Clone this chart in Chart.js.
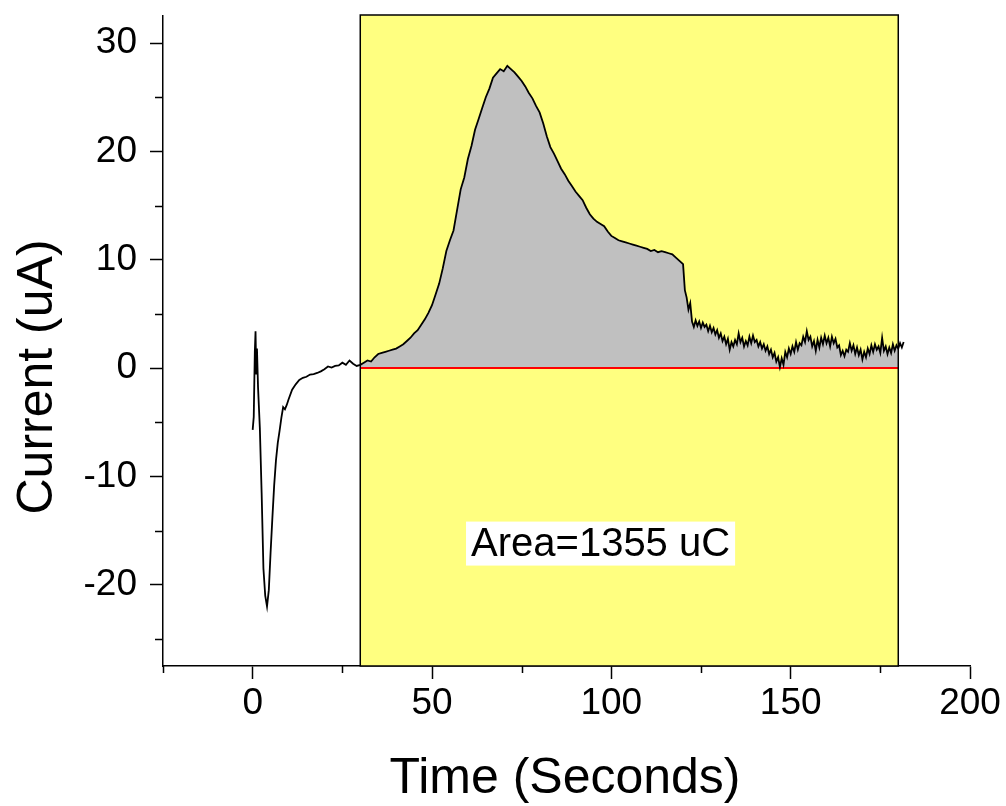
<!DOCTYPE html>
<html>
<head>
<meta charset="utf-8">
<title>Current vs Time</title>
<script src="https://cdn.jsdelivr.net/npm/chart.js@4.4.0/dist/chart.umd.min.js"></script>
<style>
  html, body { margin: 0; padding: 0; background: #fff; }
  #wrap { width: 1006px; height: 806px; position: relative; }
</style>
</head>
<body>
<div id="wrap"><canvas id="chart"></canvas></div>
<script>
const timeSec = [
  0, 0.3, 0.6, 0.8, 1, 1.2, 1.5, 2, 2.5, 3, 3.5, 4, 4.5, 5, 5.5, 6, 6.5, 7, 7.5, 8, 8.5, 9, 9.5, 10,
  11, 12, 13, 14, 15, 16, 17, 18, 19, 20, 21, 22, 23, 24, 25, 26, 27, 28, 29, 30,
  31, 32, 33, 34, 35, 36, 37, 38, 39, 40,
  41, 42, 43, 44, 45, 46, 47, 48, 49, 50,
  51, 52, 53, 54, 55, 56, 57, 58, 59, 60,
  61, 62, 63, 64, 65, 66, 67, 68, 69, 70,
  71, 72, 73, 74, 75, 76, 77, 78, 79, 80,
  81, 82, 83, 84, 85, 86, 87, 88, 89, 90,
  91, 92, 93, 94, 95, 96, 97, 98, 99, 100,
  101, 102, 103, 104, 105, 106, 107, 108, 109, 110,
  111, 112, 113, 114, 115, 116, 117, 118, 119, 120,
  120.5, 121, 121.5, 122, 122.5, 123, 123.5, 124, 124.5, 125,
  125.5, 126, 126.5, 127, 127.5, 128, 128.5, 129, 129.5, 130,
  130.5, 131, 131.5, 132, 132.5, 133, 133.5, 134, 134.5, 135,
  135.5, 136, 136.5, 137, 137.5, 138, 138.5, 139, 139.5, 140,
  140.5, 141, 141.5, 142, 142.5, 143, 143.5, 144, 144.5, 145,
  145.5, 146, 146.5, 147, 147.5, 148, 148.5, 149, 149.5, 150,
  150.5, 151, 151.5, 152, 152.5, 153, 153.5, 154, 154.5, 155,
  155.5, 156, 156.5, 157, 157.5, 158, 158.5, 159, 159.5, 160,
  160.5, 161, 161.5, 162, 162.5, 163, 163.5, 164, 164.5, 165,
  165.5, 166, 166.5, 167, 167.5, 168, 168.5, 169, 169.5, 170,
  170.5, 171, 171.5, 172, 172.5, 173, 173.5, 174, 174.5, 175,
  175.5, 176, 176.5, 177, 177.5, 178, 178.5, 179, 179.5, 180,
  180.5, 181, 181.5
];

const currentUA = [
  -5.7, -4.5, 1.5, 3.4, -0.5, 1.8, -1.8, -5.5, -11.5, -18.5, -21.0, -22.0, -20.5, -17.0, -13.8, -10.8, -8.5, -6.9, -5.8, -4.6, -3.6, -3.8, -3.4, -2.9,
  -2.0, -1.5, -1.1, -0.9, -0.8, -0.6, -0.55, -0.45, -0.3, -0.1, 0.15, 0.05, 0.2, 0.25, 0.5, 0.3, 0.7, 0.4, 0.2, 0.3,
  0.5, 0.7, 0.6, 1.0, 1.3, 1.4, 1.5, 1.6, 1.7, 1.8,
  2.0, 2.2, 2.5, 2.8, 3.2, 3.5, 4.0, 4.5, 5.1, 5.8,
  6.8, 7.8, 9.2, 10.8, 11.8, 12.7, 14.6, 16.5, 17.6, 19.3,
  20.5, 22.0, 23.0, 24.0, 25.0, 25.8, 26.8, 27.2, 27.6, 27.4,
  27.9, 27.6, 27.3, 26.9, 26.5, 26.0, 25.4, 24.9, 24.2, 23.6,
  22.6, 21.4, 20.4, 19.8, 19.1, 18.4, 17.9, 17.3, 16.8, 16.3,
  15.9, 15.5, 14.8, 14.2, 13.8, 13.5, 13.3, 13.1, 12.6, 12.2,
  12.0, 11.8, 11.7, 11.6, 11.5, 11.4, 11.3, 11.2, 11.1, 11.0,
  10.8, 10.9, 10.7, 10.8, 10.7, 10.6, 10.5, 10.2, 9.9, 9.6,
  7.2, 6.5, 5.4, 6.0, 4.3, 3.8, 4.4, 3.9, 4.3, 3.7,
  4.2, 3.8, 4.0, 3.4, 3.9, 3.3, 3.7, 3.1, 3.5, 2.8,
  3.2, 2.5, 2.9, 2.2, 2.7, 1.7, 2.4, 2.0, 2.6, 2.2,
  3.2, 2.4, 2.8, 2.0, 2.5, 2.1, 2.9, 2.3, 3.0, 2.4,
  2.6, 2.0, 2.4, 1.8, 2.2, 1.6, 2.0, 1.3, 1.7, 1.0,
  1.4, 0.6, 1.0, 0.1, 0.9, 0.3, 1.5, 1.0, 1.8, 1.3,
  2.0, 1.5, 2.4, 1.7, 2.3, 2.1, 2.9, 2.4, 3.4, 2.6,
  2.9, 2.0, 2.5, 1.6, 2.6, 1.9, 2.8, 2.2, 3.0, 2.3,
  2.8, 2.0, 2.9, 2.3, 2.7, 1.9, 2.1, 1.2, 1.6, 1.1,
  1.7, 1.5, 2.3, 1.6, 2.1, 1.3, 1.9, 1.2, 1.7, 0.8,
  1.5, 1.0, 1.8, 1.3, 2.1, 1.5, 2.2, 1.7, 2.0, 1.4,
  2.8, 1.6, 2.0, 1.3, 1.9, 1.4, 2.2, 1.6, 2.1, 1.8,
  2.3, 1.9, 2.4
];

// Integration window and result
const areaStart = 30;
const areaEnd = 180;
const baseline = 0;
const areaLabel = 'Area=1355 uC';

// Axis ticks and titles
const xTicks = [0, 50, 100, 150, 200];
const xMinorTicks = [-25, 25, 75, 125, 175];
const yTicks = [-20, -10, 0, 10, 20, 30];
const yMinorTicks = [-25, -15, -5, 5, 15, 25];
const xTitle = 'Time (Seconds)';
const yTitle = 'Current (uA)';

const FONT = '"Liberation Sans", Arial, sans-serif';
Chart.defaults.font.family = FONT;
Chart.defaults.color = '#000';

const tracePoints = timeSec.map((t, i) => ({ x: t, y: currentUA[i] }));
const areaPoints = tracePoints.filter(p => p.x >= areaStart && p.x <= areaEnd);

/**
 * Yellow integration window, its border and the result label
 */
const windowPlugin = {
  id: 'integrationWindow',
  beforeDatasetsDraw(chart) {
    const { ctx, chartArea, scales: { x } } = chart;
    const x0 = x.getPixelForValue(areaStart);
    const x1 = x.getPixelForValue(areaEnd);
    ctx.save();
    ctx.fillStyle = '#ffff80';
    ctx.fillRect(x0, chartArea.top - 1, x1 - x0, chartArea.bottom - chartArea.top + 1);
    ctx.restore();
  },
  afterDatasetsDraw(chart) {
    const { ctx, chartArea, scales: { x, y } } = chart;
    const x0 = x.getPixelForValue(areaStart);
    const x1 = x.getPixelForValue(areaEnd);
    ctx.save();
    ctx.strokeStyle = '#000';
    ctx.lineWidth = 1.5;
    ctx.strokeRect(x0, chartArea.top - 1, x1 - x0, chartArea.bottom - chartArea.top + 1);

    // result label with white box
    ctx.font = '40px ' + FONT;
    ctx.textAlign = 'center';
    ctx.textBaseline = 'middle';
    const cx = x.getPixelForValue(97);
    const cy = y.getPixelForValue(-16.2);
    const w = ctx.measureText(areaLabel).width + 10;
    ctx.fillStyle = '#fff';
    ctx.fillRect(cx - w / 2, cy - 22, w, 44);
    ctx.fillStyle = '#000';
    ctx.fillText(areaLabel, cx, cy + 1);
    ctx.restore();
  }
};

/**
 * Minor tick marks and axis titles
 */
const axisExtrasPlugin = {
  id: 'axisExtras',
  afterDraw(chart) {
    const { ctx, chartArea, scales: { x, y } } = chart;
    ctx.save();
    ctx.strokeStyle = '#000';
    ctx.lineWidth = 1.5;
    ctx.beginPath();
    xMinorTicks.forEach(v => {
      const px = Math.round(x.getPixelForValue(v)) + 0.5;
      ctx.moveTo(px, chartArea.bottom);
      ctx.lineTo(px, chartArea.bottom + 7);
    });
    yMinorTicks.forEach(v => {
      const py = Math.round(y.getPixelForValue(v)) + 0.5;
      ctx.moveTo(chartArea.left, py);
      ctx.lineTo(chartArea.left - 8, py);
    });
    ctx.stroke();

    // axis titles
    ctx.fillStyle = '#000';
    ctx.font = '50px ' + FONT;
    ctx.textAlign = 'center';
    ctx.textBaseline = 'alphabetic';
    ctx.fillText(xTitle, 565, 793);
    ctx.translate(52, 377);
    ctx.rotate(-Math.PI / 2);
    ctx.fillText(yTitle, 0, 0);
    ctx.restore();
  }
};

const ctx = document.getElementById('chart').getContext('2d');
new Chart(ctx, {
  type: 'line',
  data: {
    datasets: [
      {
        label: 'Current',
        data: tracePoints,
        borderColor: '#000',
        borderWidth: 1.8,
        pointRadius: 0,
        tension: 0,
        fill: false,
        order: 0
      },
      {
        label: 'Baseline',
        data: [{ x: areaStart, y: baseline }, { x: areaEnd, y: baseline }],
        borderColor: '#ff0000',
        borderWidth: 2,
        pointRadius: 0,
        fill: false,
        order: 1
      },
      {
        label: 'Area',
        data: areaPoints,
        borderWidth: 0,
        borderColor: 'rgba(0,0,0,0)',
        backgroundColor: '#c0c0c0',
        pointRadius: 0,
        tension: 0,
        fill: 'origin',
        order: 2
      }
    ]
  },
  options: {
    responsive: true,
    maintainAspectRatio: false,
    animation: false,
    layout: { padding: { left: 0, right: 36, top: 16, bottom: 0 } },
    plugins: {
      legend: { display: false },
      tooltip: { enabled: false }
    },
    scales: {
      x: {
        type: 'linear',
        min: -25,
        max: 200,
        afterBuildTicks: scale => { scale.ticks = xTicks.map(v => ({ value: v })); },
        afterFit: scale => {
          scale.height = 140;
          scale.paddingLeft = 0;
          scale.paddingRight = 0;
        },
        grid: {
          display: true,
          drawOnChartArea: false,
          drawTicks: true,
          tickLength: 13,
          tickColor: '#000',
          tickWidth: 1.5
        },
        border: { display: true, color: '#000', width: 1.5 },
        ticks: {
          font: { size: 37 },
          color: '#000',
          padding: 3,
          maxRotation: 0
        },
        title: { display: false }
      },
      y: {
        type: 'linear',
        min: -27.5,
        max: 32.5,
        afterBuildTicks: scale => { scale.ticks = yTicks.map(v => ({ value: v })); },
        afterFit: scale => {
          scale.width = 163;
          scale.paddingTop = 0;
          scale.paddingBottom = 0;
        },
        grid: {
          display: true,
          drawOnChartArea: false,
          drawTicks: true,
          tickLength: 13,
          tickColor: '#000',
          tickWidth: 1.5
        },
        border: { display: true, color: '#000', width: 1.5 },
        ticks: {
          font: { size: 37 },
          color: '#000',
          padding: 13
        },
        title: { display: false }
      }
    }
  },
  plugins: [windowPlugin, axisExtrasPlugin]
});
</script>
</body>
</html>
